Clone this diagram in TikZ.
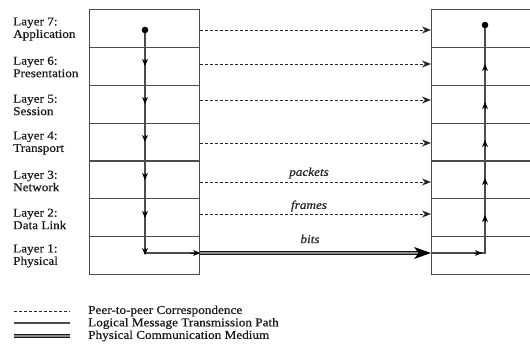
\documentclass[tikz,border=0pt]{standalone}
\usepackage{fontspec}
\setmainfont{Liberation Serif}[FakeStretch=1.1,FakeBold=0.6]
\usetikzlibrary{arrows.meta}
\begin{document}
\begin{tikzpicture}[x=1pt,y=-1pt,
  layerbox/.style={draw=black!70, line width=1.1pt, minimum width=110pt,
    minimum height=37.85pt, inner sep=0pt, anchor=north west},
  rowlabel/.style={anchor=west, align=left, inner sep=0pt, text=black!90,
    font=\fontsize{12}{12.5}\selectfont},
  msglabel/.style={inner sep=0pt, text=black!85, font=\fontsize{12}{12}\selectfont\itshape},
  legendtext/.style={anchor=west, inner sep=0pt, text=black!90,
    font=\fontsize{12}{12}\selectfont},
  peer/.style={draw=black!85, line width=1pt, dash pattern=on 3pt off 2pt,
    -{Stealth[length=9pt,width=7pt]}},
  logical/.style={draw=black!70, line width=1.1pt},
  smalltip/.style={draw=black, line width=1pt, -{Stealth[length=7pt,width=6pt]}},
  medium/.style={draw=black!90, line width=1.1pt, double=black!45, double distance=1.4pt}
]
\clip (0,0) rectangle (530,356);
\useasboundingbox (0,0) rectangle (530,356);

% Sending stack
\node[layerbox] (L7) at (89,9) {};
\node[layerbox] (L6) at (89,46.85) {};
\node[layerbox] (L5) at (89,84.7) {};
\node[layerbox] (L4) at (89,122.55) {};
\node[layerbox] (L3) at (89,160.4) {};
\node[layerbox] (L2) at (89,198.25) {};
\node[layerbox] (L1) at (89,236.1) {};

% Receiving stack (runs past the right edge)
\node[layerbox] (R7) at (431,9) {};
\node[layerbox] (R6) at (431,46.85) {};
\node[layerbox] (R5) at (431,84.7) {};
\node[layerbox] (R4) at (431,122.55) {};
\node[layerbox] (R3) at (431,160.4) {};
\node[layerbox] (R2) at (431,198.25) {};
\node[layerbox] (R1) at (431,236.1) {};

% Layer names
\node[rowlabel] (n7) at (13,29) {Layer 7:\\Application};
\node[rowlabel] (n6) at (13,67) {Layer 6:\\Presentation};
\node[rowlabel] (n5) at (13,105) {Layer 5:\\Session};
\node[rowlabel] (n4) at (13,143) {Layer 4:\\Transport};
\node[rowlabel] (n3) at (13,181) {Layer 3:\\Network};
\node[rowlabel] (n2) at (13,219) {Layer 2:\\Data Link};
\node[rowlabel] (n1) at (13,256) {Layer 1:\\Physical};

% Peer-to-peer correspondence
\draw[peer] (L7.east |- 0,30)  -- (R7.west |- 0,30);
\draw[peer] (L6.east |- 0,64)  -- (R6.west |- 0,64);
\draw[peer] (L5.east |- 0,100) -- (R5.west |- 0,100);
\draw[peer] (L4.east |- 0,143) -- (R4.west |- 0,143);
\draw[peer] (L3.east |- 0,182) -- (R3.west |- 0,182);
\draw[peer] (L2.east |- 0,214) -- (R2.west |- 0,214);

\node[msglabel] (packets) at (309,173) {packets};
\node[msglabel] (frames)  at (309,206) {frames};
\node[msglabel] (bits)    at (310,239) {bits};

% Logical message path, down the sender
\coordinate (srcdot)  at (145,30);
\coordinate (srcturn) at (145,253);
\coordinate (srcout)  at (L1.east |- srcturn);
\draw[logical] (srcdot) -- (srcturn) -- (srcout);
\fill (srcdot) circle (3.3pt);
\foreach \y in {66,104,142,180,218,255}
  \draw[smalltip] (145,\y-7) -- (145,\y);
\draw[smalltip] (190,253) -- (srcout);

% Physical medium
\coordinate (dstin) at (R1.west |- srcturn);
\draw[medium] (srcout) -- ([xshift=-12pt]dstin);
\fill[black] (dstin) -- ++(-17,-6) -- ++(4.5,6) -- ++(-4.5,6) -- cycle;

% Logical message path, up the receiver
\coordinate (dstturn) at (485,253);
\coordinate (dstdot)  at (485,25);
\draw[logical] (dstin) -- (dstturn) -- (dstdot);
\fill (dstdot) circle (3.3pt);
\draw[smalltip] (474,253) -- (482,253);
\foreach \y in {64,102,140,178,215}
  \draw[smalltip] (485,\y+7) -- (485,\y);

% Legend
\coordinate (k1a) at (14,311);  \coordinate (k1b) at (70,311);
\coordinate (k2a) at (14,323);  \coordinate (k2b) at (70,323);
\coordinate (k3a) at (14,336);  \coordinate (k3b) at (70,336);
\draw[draw=black!85, line width=1pt, dash pattern=on 3pt off 2pt] (k1a) -- (k1b);
\draw[logical] (k2a) -- (k2b);
\draw[medium] (k3a) -- (k3b);
\node[legendtext] (key1) at (88,311) {Peer-to-peer Correspondence};
\node[legendtext] (key2) at (88,323.5) {Logical Message Transmission Path};
\node[legendtext] (key3) at (88,336) {Physical Communication Medium};
\end{tikzpicture}
\end{document}
